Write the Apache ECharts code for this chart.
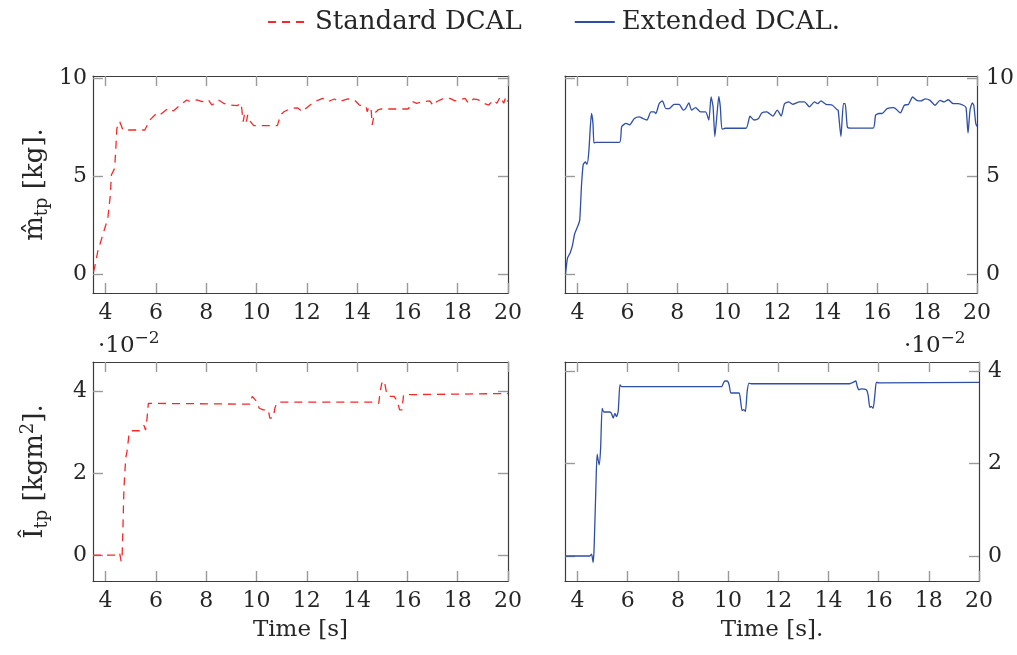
<!DOCTYPE html>
<html>
<head>
<meta charset="utf-8">
<script src="https://cdn.jsdelivr.net/npm/echarts@6/dist/echarts.min.js"></script>
<style>html,body{margin:0;padding:0;background:#fff}#c{width:1017px;height:655px}</style>
</head>
<body>
<div id="c"></div>
<script>
// ---------- data ----------
var xTicks = [4, 6, 8, 10, 12, 14, 16, 18, 20];
var yTicksMass = [0, 5, 10];
var yTicksInertia = [0, 2, 4];

// top-left: estimated mass, Standard DCAL [kg]
var massStdT = [3.52,3.56,3.69,3.89,4.09,4.19,4.23,4.36,4.40,4.45,4.56,4.69,5.56,5.76,6.03,6.16,6.49,6.69,6.89,7.23,7.36,7.63,7.83,8.09,8.23,8.49,8.69,8.96,9.23,9.39,9.47,9.52,9.60,9.65,9.76,9.89,10.83,10.96,11.09,11.36,11.63,11.83,11.96,12.29,12.63,12.83,13.09,13.29,13.63,13.89,14.09,14.36,14.40,14.47,14.56,14.60,14.69,14.83,14.96,16.03,16.23,16.36,16.63,16.89,17.03,17.16,17.43,17.69,17.89,18.29,18.43,18.63,18.83,19.03,19.23,19.43,19.56,19.69,19.83,19.92,20.0];
var massStd  = [0.15,0.34,1.19,2.03,2.88,4.07,5.08,5.42,6.27,7.46,7.80,7.37,7.37,7.88,8.22,8.14,8.47,8.34,8.56,8.90,8.81,8.90,8.81,8.90,8.64,8.90,8.73,8.64,8.61,8.73,7.80,8.14,7.80,8.14,7.80,7.59,7.59,8.14,8.30,8.47,8.50,8.30,8.47,8.81,8.98,8.81,8.95,8.81,8.95,8.90,8.64,8.56,8.30,8.56,8.39,7.63,8.22,8.39,8.44,8.44,8.81,8.73,8.81,8.85,8.61,8.81,8.98,8.98,8.85,8.98,8.73,8.95,8.90,8.73,8.64,8.90,8.73,9.07,8.73,9.07,8.81];

// top-right: estimated mass, Extended DCAL. [kg]
var massExtT = [3.52,3.60,3.70,3.79,3.89,4.03,4.09,4.16,4.23,4.32,4.38,4.45,4.56,4.62,4.66,4.73,5.68,5.77,5.95,6.08,6.28,6.48,6.61,6.78,6.94,7.07,7.14,7.27,7.40,7.54,7.67,7.87,8.07,8.24,8.33,8.46,8.57,8.73,8.93,9.13,9.26,9.35,9.43,9.50,9.59,9.66,9.72,9.79,9.92,10.75,10.91,11.07,11.25,11.38,11.58,11.68,11.83,12.00,12.16,12.29,12.45,12.62,12.89,13.09,13.29,13.49,13.62,13.75,13.95,14.21,14.39,14.44,14.55,14.65,14.72,14.81,14.94,15.84,15.94,16.07,16.20,16.40,16.67,16.93,17.09,17.26,17.42,17.59,17.75,17.93,18.12,18.32,18.52,18.68,18.85,19.05,19.25,19.45,19.56,19.64,19.72,19.81,19.87,19.95,20.0];
var massExt  = [0.02,0.85,1.10,1.44,2.10,2.53,2.78,4.53,5.62,5.74,5.62,6.20,8.21,7.71,6.71,6.74,6.74,7.54,7.71,7.63,7.96,8.04,7.96,7.88,8.29,8.29,8.21,8.71,8.85,8.46,8.46,8.68,8.68,8.38,8.46,8.75,8.38,8.51,8.29,8.29,7.88,9.05,8.55,7.04,8.21,9.08,8.55,7.41,7.46,7.46,8.08,7.88,7.96,8.24,8.29,8.21,8.08,8.38,8.08,8.71,8.80,8.68,8.80,8.80,8.55,8.80,8.71,8.85,8.68,8.63,8.41,8.38,7.04,8.71,8.71,7.51,7.47,7.47,8.13,8.21,8.21,8.46,8.51,8.24,8.63,8.68,9.05,8.88,8.85,8.96,8.88,8.63,8.88,8.80,8.91,8.71,8.71,8.63,8.51,7.21,8.38,8.75,8.63,7.71,7.55];

// bottom-left: estimated inertia, Standard DCAL [kgm^2, x 10^-2]
var inerStdT = [3.50,4.49,4.56,4.62,4.66,4.69,4.73,4.80,4.85,4.93,5.02,5.35,5.46,5.53,5.59,5.65,5.70,5.75,9.74,9.83,9.90,10.00,10.11,10.27,10.47,10.53,10.60,10.67,10.73,10.80,10.93,14.78,14.86,14.92,14.98,15.08,15.16,15.25,15.47,15.60,15.69,15.78,15.85,15.91,20.0];
var inerStd  = [0,0,0.05,-0.15,0,0.66,1.64,2.37,2.53,2.94,3.04,3.04,3.10,3.17,3.06,3.35,3.71,3.69,3.69,3.88,3.84,3.76,3.59,3.55,3.55,3.35,3.31,3.36,3.59,3.71,3.74,3.74,3.71,4.00,4.20,4.26,4.00,3.88,3.88,3.76,3.55,3.55,3.92,3.96,3.95];

// bottom-right: estimated inertia, Extended DCAL. [kgm^2, x 10^-2]
var inerExtT = [3.50,4.49,4.56,4.62,4.66,4.73,4.78,4.86,4.92,4.98,5.05,5.29,5.35,5.42,5.49,5.55,5.62,5.69,5.75,9.74,9.81,9.87,9.96,10.04,10.11,10.27,10.44,10.50,10.56,10.63,10.69,10.76,10.83,10.93,14.85,14.98,15.09,15.14,15.21,15.31,15.51,15.58,15.65,15.71,15.78,15.85,15.91,16.02,20.0];
var inerExt  = [0,0,0.04,-0.14,0.17,1.46,2.20,1.97,2.33,3.19,3.11,3.11,3.08,2.98,3.08,3.01,3.12,3.70,3.66,3.66,3.73,3.78,3.78,3.70,3.52,3.52,3.52,3.34,3.14,3.16,3.12,3.55,3.73,3.72,3.72,3.75,3.78,3.68,3.59,3.61,3.59,3.48,3.21,3.23,3.19,3.48,3.75,3.74,3.75];

var nameStd = 'Standard DCAL';
var nameExt = 'Extended DCAL.';
// ---------- chart ----------
function zip(a, b) { return a.map(function (v, i) { return [v, b[i]]; }); }

var FONT = 'DejaVu Serif';
var TXT = '#262626';
var RED = '#f42a2a', BLUE = '#2f4ea6';
function labelStyle() { return { fontFamily: FONT, fontSize: 22, color: TXT }; }
function tick(vals) { return { show: true, inside: true, length: 10, customValues: vals, lineStyle: { color: '#9a9a9a', width: 1.4 } }; }
function frameLine() { return { show: true, onZero: false, lineStyle: { color: '#3c3c3c', width: 1.2 } }; }

var grids = [
  { left: 93, top: 76, width: 415, height: 217 },
  { left: 565, top: 76, width: 414, height: 217 },
  { left: 93, top: 362, width: 415, height: 219 },
  { left: 565, top: 362, width: 414, height: 219 }
];
var yRanges = [[-0.93, 10.12], [-0.93, 10.12], [-0.63, 4.72], [-0.54, 4.19]];
var yTickSets = [yTicksMass, yTicksMass, yTicksInertia, yTicksInertia];
var xNames = ['', '', 'Time [s]', 'Time [s].'];
var yNames = ['{m|m\u0302}{s|tp}{m| [kg].}', '', '{m|\u00CE}{s|tp}{m| [kgm}{p|2}{m|].}', ''];

var xAxes = [], yAxes = [];
for (var i = 0; i < 8; i++) {
  var g = i % 4, primary = i < 4;
  var xa = {
    type: 'value', gridIndex: g, min: 3.5, max: 20, position: primary ? 'bottom' : 'top',
    axisLine: frameLine(), splitLine: { show: false },
    axisTick: tick(xTicks),
    axisLabel: primary ? Object.assign({ customValues: xTicks, margin: 9 }, labelStyle()) : { show: false }
  };
  if (primary && xNames[g]) {
    xa.name = xNames[g];
    xa.nameLocation = 'middle';
    xa.nameGap = 38;
    xa.nameTextStyle = { fontFamily: FONT, fontSize: 23, color: TXT };
  }
  xAxes.push(xa);

  var rightSide = (g % 2 === 1) !== !primary;
  var ya = {
    type: 'value', gridIndex: g, min: yRanges[g][0], max: yRanges[g][1],
    position: rightSide ? 'right' : 'left',
    axisLine: frameLine(), splitLine: { show: false },
    axisTick: tick(yTickSets[g]),
    axisLabel: primary ? Object.assign({ customValues: yTickSets[g], margin: rightSide ? 9 : 6 }, labelStyle()) : { show: false }
  };
  if (primary && yNames[g]) {
    ya.name = yNames[g];
    ya.nameLocation = 'middle';
    ya.nameRotate = 90;
    ya.nameGap = 42;
    ya.nameTextStyle = {
      fontFamily: FONT, color: TXT,
      rich: {
        m: { fontFamily: FONT, fontSize: 26, color: TXT, lineHeight: 32, verticalAlign: 'middle' },
        s: { fontFamily: FONT, fontSize: 18, color: TXT, lineHeight: 18, verticalAlign: 'bottom' },
        p: { fontFamily: FONT, fontSize: 18, color: TXT, lineHeight: 18, verticalAlign: 'top' }
      }
    };
  }
  yAxes.push(ya);
}

function mk(name, idx, t, v, color, dashed) {
  return {
    name: name, type: 'line', xAxisIndex: idx, yAxisIndex: idx,
    data: zip(t, v), showSymbol: false, symbol: 'none', smooth: dashed ? false : 0.2,
    lineStyle: { color: color, width: 1.3, type: dashed ? [8, 6] : 'solid' },
    itemStyle: { color: color }, animation: false, clip: true
  };
}

function exponentText(left) {
  return {
    type: 'text', left: left, top: 330,
    style: {
      text: '{m|\u00B710}{p|\u22122}',
      rich: {
        m: { fontFamily: FONT, fontSize: 23, fill: TXT, lineHeight: 28, verticalAlign: 'bottom' },
        p: { fontFamily: FONT, fontSize: 17, fill: TXT, lineHeight: 28, verticalAlign: 'top' }
      }
    }
  };
}

var chart = echarts.init(document.getElementById('c'), null, { renderer: 'canvas' });
chart.setOption({
  backgroundColor: '#fff',
  animation: false,
  legend: {
    top: 4, left: 262, itemWidth: 40, itemHeight: 16, itemGap: 52,
    data: [nameStd, nameExt],
    itemStyle: { opacity: 0 },
    textStyle: { fontFamily: FONT, fontSize: 26, color: TXT, padding: [0, 0, 0, 2] }
  },
  grid: grids,
  xAxis: xAxes,
  yAxis: yAxes,
  graphic: [exponentText(98), exponentText(904)],
  series: [
    mk(nameStd, 0, massStdT, massStd, RED, true),
    mk(nameExt, 1, massExtT, massExt, BLUE, false),
    mk(nameStd, 2, inerStdT, inerStd, RED, true),
    mk(nameExt, 3, inerExtT, inerExt, BLUE, false)
  ]
});
</script>
</body>
</html>
